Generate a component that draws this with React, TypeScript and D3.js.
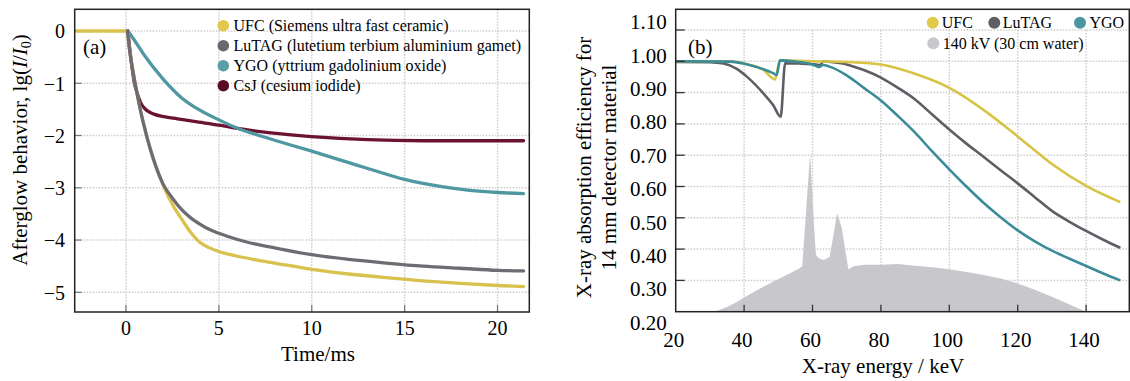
import * as d3 from 'd3'

type Pt = [number, number]

// (a) afterglow, lg(I/I0) against time in ms
const afterglowXTicks = [0, 5, 10, 15, 20]
const afterglowYTicks = [0, -1, -2, -3, -4, -5]
const afterglowLabels = [
  'UFC (Siemens ultra fast ceramic)',
  'LuTAG (lutetium terbium aluminium gamet)',
  'YGO (yttrium gadolinium oxide)',
  'CsJ (cesium iodide)',
]
const ufcAfterglow: Pt[] = [
  [-2.7, 0], [0.05, 0], [0.2, -0.38], [0.4, -0.82], [0.6, -1.2], [0.8, -1.55], [1, -1.85],
  [1.3, -2.25], [1.6, -2.58], [2, -2.95], [2.5, -3.32], [3, -3.6], [3.5, -3.86], [4, -4.05],
  [4.5, -4.15], [5, -4.22], [6, -4.31], [7, -4.38], [8, -4.44], [10, -4.56], [12, -4.65],
  [14, -4.72], [16, -4.78], [18, -4.83], [20, -4.87], [21.4, -4.89],
]
const lutagAfterglow: Pt[] = [
  [0.08, 0], [0.2, -0.38], [0.4, -0.82], [0.6, -1.2], [0.8, -1.55], [1, -1.85], [1.3, -2.25],
  [1.6, -2.58], [2, -2.93], [2.5, -3.2], [3, -3.42], [3.5, -3.58], [4, -3.7], [4.5, -3.8],
  [5, -3.87], [6, -3.99], [7, -4.08], [8, -4.15], [10, -4.28], [12, -4.37], [14, -4.44],
  [16, -4.5], [18, -4.54], [20, -4.58], [21.4, -4.59],
]
const ygoAfterglow: Pt[] = [
  [0.1, 0], [0.5, -0.2], [1, -0.47], [2, -0.92], [3, -1.28], [4, -1.52], [5, -1.7], [6, -1.86],
  [7, -1.98], [8, -2.09], [10, -2.3], [12, -2.52], [13.1, -2.64], [15, -2.84], [17, -2.98],
  [18.5, -3.05], [20, -3.09], [21.4, -3.11],
]
const csjAfterglow: Pt[] = [
  [0.1, 0], [0.27, -0.54], [0.45, -0.99], [0.63, -1.22], [0.8, -1.38], [1, -1.48],
  [1.2, -1.54], [1.5, -1.59], [2.05, -1.64], [2.77, -1.68], [3.66, -1.73], [5, -1.8],
  [6.3, -1.88], [7.8, -1.95], [10, -2.02], [13, -2.08], [16, -2.1], [21.4, -2.1],
]

// (b) absorption efficiency of 14 mm detector against X-ray energy in keV
const energyXTicks = [20, 40, 60, 80, 100, 120, 140]
const efficiencyYTicks = [0.2, 0.3, 0.4, 0.5, 0.6, 0.7, 0.8, 0.9, 1.0, 1.1]
const efficiencyLabels = ['UFC', 'LuTAG', 'YGO', '140 kV (30 cm water)']
const ufcEfficiency: Pt[] = [
  [20, 1.0], [36, 1.0], [41, 0.99], [45.6, 0.973], [49, 0.942], [50.5, 1.003], [60, 1.0],
  [70, 0.998], [80, 0.99], [90, 0.96], [100, 0.915], [110, 0.845], [120, 0.76], [130, 0.672],
  [140, 0.602], [150, 0.55],
]
const lutagEfficiency: Pt[] = [
  [20, 0.998], [30, 0.997], [34, 0.993], [38, 0.975], [40.8, 0.951], [45.6, 0.898],
  [48.5, 0.86], [50.7, 0.823], [52, 0.994], [56, 0.993], [61, 0.99], [62.2, 0.988],
  [63.2, 1.0], [66, 0.997], [70, 0.99], [75, 0.972], [80, 0.948], [85, 0.915], [90, 0.878],
  [95, 0.83], [100, 0.782], [105, 0.737], [110, 0.695], [115, 0.652], [120, 0.61],
  [125, 0.566], [130, 0.522], [135, 0.488], [140, 0.458], [145, 0.43], [150, 0.404],
]
const ygoEfficiency: Pt[] = [
  [20, 1.0], [36, 0.999], [41, 0.99], [45.6, 0.975], [48.5, 0.962], [49.5, 0.956],
  [50.5, 1.003], [55, 0.999], [60, 0.99], [62, 0.982], [63, 0.988], [65, 0.983], [70, 0.955],
  [75, 0.915], [80, 0.875], [85, 0.825], [90, 0.772], [95, 0.712], [100, 0.655], [105, 0.6],
  [110, 0.548], [115, 0.502], [120, 0.46], [125, 0.425], [130, 0.395], [135, 0.37],
  [140, 0.346], [145, 0.322], [150, 0.3],
]
const spectrum140kV: Pt[] = [
  [30, 0.2], [32, 0.202], [35, 0.215], [38, 0.232], [40, 0.245], [44, 0.27], [48, 0.293],
  [52, 0.315], [56, 0.337], [57, 0.345], [58.3, 0.55], [59.3, 0.705], [60.3, 0.5], [61, 0.38],
  [62, 0.37], [63.3, 0.365], [65, 0.375], [66.2, 0.45], [67.2, 0.515], [68.5, 0.47],
  [70.5, 0.335], [72, 0.345], [75, 0.35], [80, 0.35], [85, 0.352], [90, 0.347], [95, 0.342],
  [100, 0.336], [105, 0.327], [110, 0.317], [115, 0.306], [120, 0.29], [125, 0.27],
  [130, 0.248], [135, 0.224], [140, 0.2],
]

const FONT = "'Liberation Serif','Times New Roman',serif"
const GRID = { stroke: '#cdcdcd', strokeWidth: 1.5, strokeDasharray: '1.5 1.5' }
const minus = (v: number) => (v < 0 ? '\u2212' + Math.abs(v) : String(v))

function AfterglowPanel() {
  const box = { left: 74.7, right: 529.3, top: 9.3, bottom: 312 }
  const x = d3.scaleLinear().domain([-2.76, 21.71]).range([box.left, box.right])
  const y = d3.scaleLinear().domain([0, -5]).range([31, 292.3])
  const line = d3.line<Pt>().x((d) => x(d[0])).y((d) => y(d[1])).curve(d3.curveMonotoneX)

  const series = [
    { data: csjAfterglow, color: '#6a1232' },
    { data: ygoAfterglow, color: '#4f98a2' },
    { data: ufcAfterglow, color: '#d8c24e' },
    { data: lutagAfterglow, color: '#6d6c72' },
  ]
  const dots = ['#e2c94a', '#68676d', '#5a9fa8', '#5c0b27']

  return (
    <g fontFamily={FONT}>
      <defs>
        <clipPath id="clipA">
          <rect x={box.left} y={box.top} width={box.right - box.left} height={box.bottom - box.top} />
        </clipPath>
      </defs>
      {afterglowYTicks.map((t) => (
        <line key={'gy' + t} x1={box.left} x2={box.right} y1={y(t)} y2={y(t)} {...GRID} />
      ))}
      {afterglowXTicks.map((t) => (
        <line key={'gx' + t} x1={x(t)} x2={x(t)} y1={box.top} y2={box.bottom} {...GRID} />
      ))}
      {afterglowYTicks.map((t) => (
        <line key={'ty' + t} x1={box.left} x2={box.left + 7} y1={y(t)} y2={y(t)} stroke="#777" strokeWidth={1.2} />
      ))}
      {afterglowXTicks.map((t) => (
        <line key={'tx' + t} x1={x(t)} x2={x(t)} y1={box.bottom} y2={box.bottom - 7} stroke="#777" strokeWidth={1.2} />
      ))}
      <g clipPath="url(#clipA)">
        {series.map((s, i) => (
          <path key={i} d={line(s.data) || ''} fill="none" stroke={s.color} strokeWidth={3.3}
            strokeLinecap="round" strokeLinejoin="round" />
        ))}
      </g>
      <rect x={box.left} y={box.top} width={box.right - box.left} height={box.bottom - box.top}
        fill="none" stroke="#222" strokeWidth={1.5} />
      {afterglowYTicks.map((t) => (
        <text key={'ly' + t} x={65} y={y(t) + 7.3} textAnchor="end" fontSize={20}>{minus(t)}</text>
      ))}
      {afterglowXTicks.map((t) => (
        <text key={'lx' + t} x={x(t)} y={335} textAnchor="middle" fontSize={20}>{t}</text>
      ))}
      <text x={318} y={361} textAnchor="middle" fontSize={21}>Time/ms</text>
      <text transform="translate(26.5,150) rotate(-90)" textAnchor="middle" fontSize={21}>
        Afterglow behavior, lg(<tspan fontStyle="italic">I</tspan>/<tspan fontStyle="italic">I</tspan>
        <tspan fontSize={14} dy={4}>0</tspan><tspan dy={-4}>)</tspan>
      </text>
      <text x={83} y={53.5} fontSize={21}>(a)</text>
      {afterglowLabels.map((label, i) => (
        <g key={label} transform={`translate(0,${25.7 + i * 20})`}>
          <circle cx={223.3} cy={0} r={5.8} fill={dots[i]} />
          <text x={233.5} y={5.5} fontSize={16}>{label}</text>
        </g>
      ))}
    </g>
  )
}

function EfficiencyPanel() {
  const box = { left: 675.7, right: 1129.3, top: 9.3, bottom: 311.7 }
  const x = d3.scaleLinear().domain([20, 152.63]).range([box.left, box.right])
  const y = d3.scaleLinear().domain([0.2, 1.1]).range([box.bottom, 30])
  // the printed tick labels sit on a slightly wider spacing than the ticks
  const yLabel = d3.scaleLinear().domain([0.2, 1.1]).range([329.8, 29.2])
  const line = d3.line<Pt>().x((d) => x(d[0])).y((d) => y(d[1])).curve(d3.curveMonotoneX)
  const area = d3.area<Pt>().x((d) => x(d[0])).y0(y(0.2)).y1((d) => y(d[1]))
  const fmt = d3.format('.2f')

  const series = [
    { data: lutagEfficiency, color: '#5f5e65' },
    { data: ufcEfficiency, color: '#d8c443' },
    { data: ygoEfficiency, color: '#3a8d98' },
  ]
  const dots = ['#e2c94a', '#5f5e65', '#4a97a1', '#c8c7cc']
  const legendPos = [
    [932.7, 22.7, 941.7],
    [994.3, 22.7, 1002.7],
    [1080, 22.7, 1089.5],
    [933.3, 43.3, 942.7],
  ]

  return (
    <g fontFamily={FONT}>
      <defs>
        <clipPath id="clipB">
          <rect x={box.left} y={box.top} width={box.right - box.left} height={box.bottom - box.top} />
        </clipPath>
      </defs>
      {efficiencyYTicks.filter((t) => t > 0.25).map((t) => (
        <line key={'gy' + t} x1={box.left} x2={box.right} y1={y(t)} y2={y(t)} {...GRID} />
      ))}
      {energyXTicks.filter((t) => t > 20).map((t) => (
        <line key={'gx' + t} x1={x(t)} x2={x(t)} y1={y(1.1)} y2={box.bottom} {...GRID} />
      ))}
      <g clipPath="url(#clipB)">
        <path d={area(spectrum140kV) || ''} fill="#c8c7cc" />
        {series.map((s, i) => (
          <path key={i} d={line(s.data) || ''} fill="none" stroke={s.color} strokeWidth={2.6}
            strokeLinejoin="round" />
        ))}
      </g>
      {efficiencyYTicks.filter((t) => t > 0.25).map((t) => (
        <line key={'ty' + t} x1={box.left} x2={box.left + 9} y1={y(t)} y2={y(t)} stroke="#333" strokeWidth={1.3} />
      ))}
      {energyXTicks.filter((t) => t > 20).map((t) => (
        <line key={'tx' + t} x1={x(t)} x2={x(t)} y1={box.bottom} y2={box.bottom - 7} stroke="#333" strokeWidth={1.3} />
      ))}
      <rect x={box.left} y={box.top} width={box.right - box.left} height={box.bottom - box.top}
        fill="none" stroke="#222" strokeWidth={1.5} />
      {efficiencyYTicks.map((t) => (
        <text key={'ly' + t} x={666.7} y={yLabel(t)} textAnchor="end" fontSize={21}>{fmt(t)}</text>
      ))}
      {energyXTicks.map((t) => (
        <text key={'lx' + t} x={x(t) - 2} y={346.5} textAnchor="middle" fontSize={21}>{t}</text>
      ))}
      <text x={883} y={372.5} textAnchor="middle" fontSize={21}>X-ray energy / keV</text>
      <text transform="translate(590.5,167.5) rotate(-90)" textAnchor="middle" fontSize={21}>
        X-ray absorption efficiency for
      </text>
      <text transform="translate(616,167.5) rotate(-90)" textAnchor="middle" fontSize={21}>
        14 mm detector material
      </text>
      <text x={688} y={53.5} fontSize={21}>(b)</text>
      {efficiencyLabels.map((label, i) => (
        <g key={label}>
          <circle cx={legendPos[i][0]} cy={legendPos[i][1]} r={6} fill={dots[i]} />
          <text x={legendPos[i][2]} y={legendPos[i][1] + 5.5} fontSize={16}>{label}</text>
        </g>
      ))}
    </g>
  )
}

export default function App() {
  return (
    <svg width={1130} height={381} viewBox="0 0 1130 381"
      style={{ position: 'absolute', left: 0, top: 0, background: '#fff' }}>
      <rect width={1130} height={381} fill="#fff" />
      <AfterglowPanel />
      <EfficiencyPanel />
    </svg>
  )
}
